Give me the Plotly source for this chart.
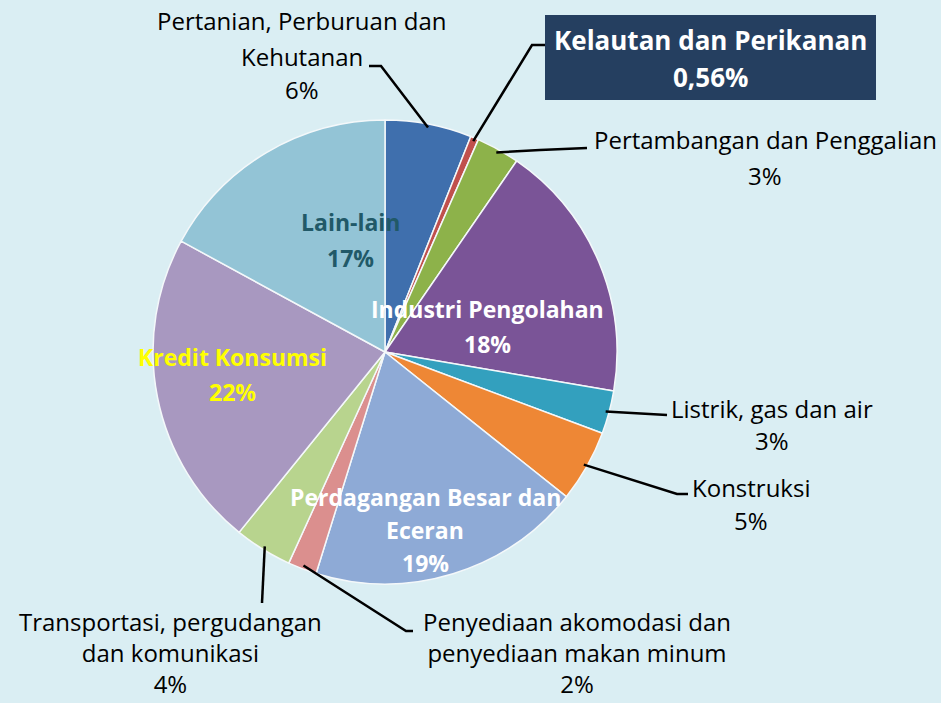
import math
import plotly.graph_objects as go

categories = ["Pertanian, Perburuan dan Kehutanan", "Kelautan dan Perikanan",
              "Pertambangan dan Penggalian", "Industri Pengolahan",
              "Listrik, gas dan air", "Konstruksi", "Perdagangan Besar dan Eceran",
              "Penyediaan akomodasi dan penyediaan makan minum",
              "Transportasi, pergudangan dan komunikasi", "Kredit Konsumsi", "Lain-lain"]
values = [6, 0.56, 3, 18, 3, 5, 19, 2, 4, 22, 17]
pct_labels = ["6%", "0,56%", "3%", "18%", "3%", "5%", "19%", "2%", "4%", "22%", "17%"]
colors = ["#3F6FAD", "#C0504D", "#8DB24A", "#7A5497", "#33A0BE", "#EE8735",
          "#8EAAD6", "#DB8F8E", "#B8D48E", "#A898C0", "#93C4D6"]

W, H = 941, 703
CX, CY, R = 385, 352, 232
BG = "#DAEEF3"
FONT = "Open Sans"

fig = go.Figure(go.Pie(
    labels=categories, values=values, sort=False, direction="clockwise", rotation=0,
    marker=dict(colors=colors, line=dict(color="#F4F8FA", width=1.5)),
    textinfo="none", hoverinfo="label+percent", showlegend=False,
    domain=dict(x=[(CX - R) / W, (CX + R) / W], y=[(H - CY - R) / H, (H - CY + R) / H]),
))

total = sum(values)
def edge_point(i, rf=0.985):
    cum = sum(values[:i]) + values[i] / 2
    a = 2 * math.pi * cum / total
    return CX + R * rf * math.sin(a), CY - R * rf * math.cos(a)

def px(x):
    return x / W
def py(y):
    return 1 - y / H

shapes = []
def leader(i, pts):
    sx, sy = edge_point(i)
    all_pts = [(sx, sy)] + pts
    path = "M " + " L ".join(f"{px(x)},{py(y)}" for x, y in all_pts)
    shapes.append(dict(type="path", xref="paper", yref="paper", path=path,
                       line=dict(color="black", width=2.5)))

leader(0, [(381, 66), (369, 66)])
leader(1, [(532, 45), (545, 45)])
leader(2, [(540, 150), (587, 148)])
leader(4, [(667, 415)])
leader(5, [(677, 494), (688, 494)])
leader(7, [(406, 631), (413, 631)])
leader(8, [(262, 603)])

annotations = []
def txt(x, y, s, color="black", size=24, bold=False, yanchor="middle", **kw):
    if bold:
        s = f"<b>{s}</b>"
    annotations.append(dict(x=px(x), y=py(y), xref="paper", yref="paper", text=s,
                            showarrow=False, font=dict(family=FONT, size=size, color=color),
                            xanchor="center", yanchor=yanchor, **kw))

# outside labels (one annotation per line)
txt(302, 21, "Pertanian, Perburuan dan")
txt(302, 56, "Kehutanan")
txt(302, 90, pct_labels[0])
txt(765, 140, "Pertambangan dan Penggalian")
txt(765, 175, pct_labels[2])
txt(772, 408, "Listrik, gas dan air")
txt(772, 440, pct_labels[4])
txt(751, 487, "Konstruksi")
txt(751, 520, pct_labels[5])
txt(577, 702, "Penyediaan akomodasi dan<br>penyediaan makan minum<br>" + pct_labels[7],
    yanchor="bottom")
txt(170, 702, "Transportasi, pergudangan<br>dan komunikasi<br>" + pct_labels[8],
    yanchor="bottom")

# inside labels
IS = 23
txt(350, 222, "Lain-lain", color="#215968", size=IS, bold=True)
txt(350, 258, pct_labels[10], color="#215968", size=IS, bold=True)
txt(487, 309, "Industri Pengolahan", color="white", size=IS, bold=True)
txt(487, 344, pct_labels[3], color="white", size=IS, bold=True)
txt(232, 357, "Kredit Konsumsi", color="#FFFF00", size=IS, bold=True)
txt(232, 392, pct_labels[9], color="#FFFF00", size=IS, bold=True)
txt(425, 497, "Perdagangan Besar dan", color="white", size=IS, bold=True)
txt(425, 530, "Eceran", color="white", size=IS, bold=True)
txt(425, 563, pct_labels[6], color="white", size=IS, bold=True)

# highlighted box
shapes.append(dict(type="rect", xref="paper", yref="paper",
                   x0=px(545), x1=px(876), y0=py(100), y1=py(15),
                   fillcolor="#253F60", line=dict(width=0), layer="above"))
txt(710, 40, "Kelautan dan Perikanan", color="white", size=26, bold=True)
txt(710, 77, pct_labels[1], color="white", size=26, bold=True)

fig.update_layout(width=W, height=H, margin=dict(l=0, r=0, t=0, b=0),
                  paper_bgcolor=BG, plot_bgcolor=BG,
                  shapes=shapes, annotations=annotations)
fig.write_html("out.html", config={"displayModeBar": False},
               post_script="document.body.style.margin='0';document.body.style.background='" + BG + "';")
